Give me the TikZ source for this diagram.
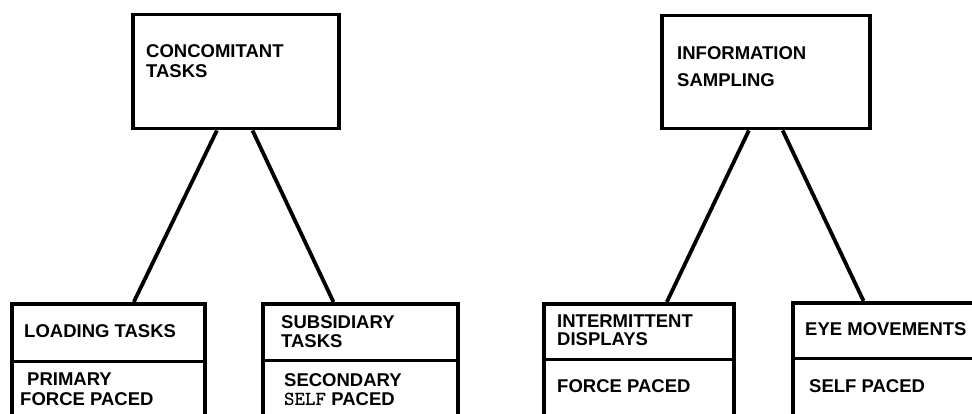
\documentclass[tikz,border=0pt]{standalone}
\usepackage{fontspec}
\setmainfont{Liberation Sans}
\usetikzlibrary{calc}
\begin{document}
\begin{tikzpicture}[x=1pt,y=-1pt,
  box/.style={draw, line width=3.5pt, rectangle, inner sep=0pt, anchor=north west},
  divider/.style={line width=3pt},
  lbl/.style={inner sep=0pt, anchor=base west, font=\bfseries\fontsize{18.5}{20}\selectfont},
  link/.style={line width=3.8pt}]
\useasboundingbox (0,0) rectangle (972,414);
\clip (0,0) rectangle (972,414);
% top boxes
\node[box, minimum width=206pt, minimum height=114pt] (concom) at (131,13) {};
\node[box, minimum width=208pt, minimum height=113pt] (info) at (660,14) {};
% child boxes (run off the bottom edge)
\node[box, minimum width=193pt, minimum height=140pt] (loading) at (10,302) {};
\node[box, minimum width=195pt, minimum height=140pt] (subsid) at (261,302) {};
\node[box, minimum width=190pt, minimum height=140pt] (interm) at (542,302) {};
\node[box, minimum width=210pt, minimum height=140pt] (eye) at (791,301) {};
% dividers
\draw[divider] (loading.west |- 0,361) -- (loading.east |- 0,361);
\draw[divider] (subsid.west |- 0,360) -- (subsid.east |- 0,360);
\draw[divider] (interm.west |- 0,359) -- (interm.east |- 0,359);
\draw[divider] (eye.west |- 0,358) -- (eye.east |- 0,358);
% connectors
\draw[link] ($(concom.south west)!0.41!(concom.south east)$) -- ($(loading.north west)!0.63!(loading.north east)$);
\draw[link] ($(concom.south west)!0.58!(concom.south east)$) -- ($(subsid.north west)!0.365!(subsid.north east)$);
\draw[link] ($(info.south west)!0.42!(info.south east)$) -- ($(interm.north west)!0.645!(interm.north east)$);
\draw[link] ($(info.south west)!0.58!(info.south east)$) -- ($(eye.north west)!0.34!(eye.north east)$);
% labels
\node[lbl] (t1) at (146,58) {CONCOMITANT};
\node[lbl] (t2) at (146,78) {TASKS};
\node[lbl] (t3) at (677,60) {INFORMATION};
\node[lbl] (t4) at (677,87) {SAMPLING};
\node[lbl] (t5) at (24,337) {LOADING TASKS};
\node[lbl] (t6) at (27,385) {PRIMARY};
\node[lbl] (t7) at (20,405) {FORCE PACED};
\node[lbl] (t8) at (281,328) {SUBSIDIARY};
\node[lbl] (t9) at (281,347) {TASKS};
\node[lbl] (t10) at (284,386) {SECONDARY};
\node[lbl] (t11) at (284,405) {{\ttfamily\fontsize{20}{20}\selectfont SELF} PACED};
\node[lbl] (t12) at (557,327) {INTERMITTENT};
\node[lbl] (t13) at (557,345) {DISPLAYS};
\node[lbl] (t14) at (557,392) {FORCE PACED};
\node[lbl] (t15) at (805,335) {EYE MOVEMENTS};
\node[lbl] (t16) at (809,392) {SELF PACED};
\end{tikzpicture}
\end{document}
